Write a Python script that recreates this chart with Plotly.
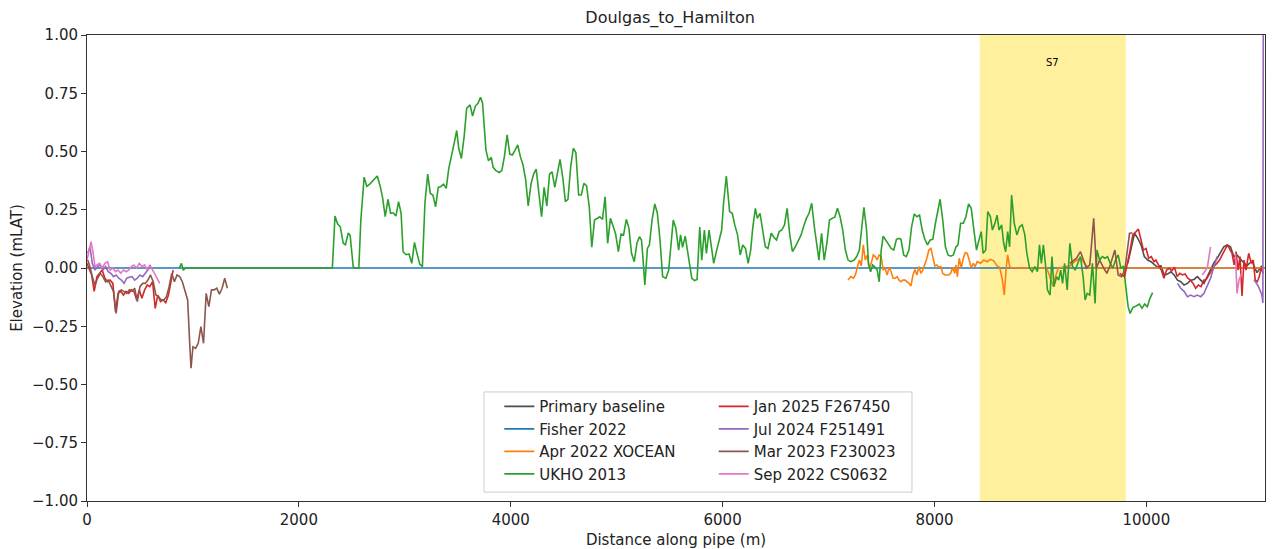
"""Doulgas_to_Hamilton pipeline elevation profile, all surveys on one axis."""

import plotly.graph_objects as go


# ------------------------------------------------------------------
# Survey data (distance along pipe in m, elevation in mLAT)
# ------------------------------------------------------------------

primary_x = [9825, 9856, 9888, 9919, 9950, 9981, 10013, 10044, 10075, 10106,
             10138, 10169, 10200, 10231, 10263, 10294, 10325, 10356, 10388,
             10419, 10450, 10481, 10513, 10544, 10575, 10606, 10638, 10669,
             10700, 10731, 10763, 10794, 10825, 10856, 10903, 10950, 10997,
             11044, 11091]
primary_y = [0.02, 0.091, 0.149, 0.127, 0.099, 0.049, 0.034, 0.027, 0.013,
             0.003, 0.009, -0.03, -0.026, -0.016, -0.03, -0.052, -0.059,
             -0.073, -0.066, -0.052, -0.049, -0.037, -0.052, -0.066, -0.037,
             -0.009, 0.023, 0.042, 0.07, 0.091, 0.099, 0.091, 0.049, 0.056,
             0.03, 0.01, 0.03, -0.02, 0.01]

fisher_x = [0, 11120]
fisher_y = [0.0, 0.0]

xocean_x = [7184, 7209, 7235, 7253, 7272, 7291, 7309, 7328, 7347, 7366, 7384,
            7403, 7422, 7441, 7459, 7478, 7497, 7516, 7534, 7553, 7572, 7591,
            7609, 7628, 7647, 7666, 7684, 7703, 7722, 7741, 7759, 7778, 7797,
            7816, 7834, 7853, 7872, 7891, 7909, 7928, 7947, 7966, 7984, 8003,
            8022, 8041, 8059, 8078, 8097, 8116, 8134, 8153, 8172, 8191, 8203,
            8216, 8234, 8253, 8272, 8291, 8309, 8328, 8347, 8366, 8384, 8403,
            8434, 8466, 8497, 8528, 8559, 8591, 8616, 8641, 8659, 8678, 8691,
            8709, 8730, 9060, 9100, 9122, 9140, 9170, 9280, 9330, 9380, 9420,
            9450, 11120]
xocean_y = [-0.052, -0.037, -0.044, -0.03, 0.003, 0.034, 0.009, 0.099, 0.034,
            0.056, 0.0, 0.02, 0.056, 0.049, 0.034, 0.056, 0.049, -0.009,
            -0.001, -0.03, 0.003, -0.016, -0.044, -0.044, -0.037, -0.052,
            -0.059, -0.052, -0.052, -0.059, -0.066, -0.077, -0.03, -0.006,
            -0.03, 0.006, -0.023, -0.009, 0.013, 0.042, 0.077, 0.084, 0.049,
            0.009, 0.013, 0.003, 0.006, -0.023, -0.03, -0.03, -0.03, -0.023,
            0.003, -0.023, 0.013, -0.037, 0.042, 0.0, 0.042, 0.066, 0.063,
            0.034, 0.0, 0.02, 0.006, 0.027, 0.02, 0.034, 0.027, 0.037, 0.031,
            0.009, 0.003, -0.052, -0.116, 0.006, 0.056, 0.006, 0.0, 0.0,
            -0.05, -0.08, -0.04, 0.0, 0.01, 0.03, 0.042, 0.02, 0.0, 0.0]

ukho_x = [872, 891, 909, 928, 2316, 2341, 2365, 2391, 2419, 2440, 2466, 2484,
          2513, 2528, 2566, 2585, 2616, 2641, 2669, 2691, 2716, 2740, 2768,
          2791, 2815, 2841, 2866, 2890, 2916, 2941, 2965, 2984, 3012, 3040,
          3066, 3091, 3115, 3141, 3166, 3190, 3216, 3241, 3265, 3291, 3316,
          3340, 3366, 3391, 3415, 3441, 3466, 3490, 3509, 3534, 3560, 3584,
          3616, 3640, 3666, 3691, 3715, 3734, 3747, 3766, 3790, 3816, 3834,
          3860, 3891, 3916, 3940, 3966, 3991, 4015, 4041, 4066, 4091, 4116,
          4141, 4165, 4191, 4216, 4240, 4266, 4291, 4315, 4341, 4366, 4390,
          4416, 4441, 4465, 4491, 4516, 4540, 4566, 4591, 4615, 4641, 4666,
          4690, 4716, 4741, 4765, 4791, 4816, 4840, 4866, 4891, 4915, 4941,
          4966, 4990, 5016, 5041, 5065, 5091, 5116, 5140, 5166, 5191, 5215,
          5234, 5247, 5266, 5290, 5309, 5334, 5360, 5384, 5409, 5434, 5466,
          5491, 5515, 5534, 5559, 5585, 5603, 5622, 5647, 5666, 5684, 5709,
          5735, 5759, 5784, 5803, 5828, 5847, 5872, 5897, 5916, 5941, 5965,
          5991, 6009, 6035, 6066, 6091, 6115, 6141, 6166, 6190, 6216, 6241,
          6265, 6284, 6309, 6328, 6353, 6378, 6403, 6428, 6459, 6484, 6509,
          6534, 6559, 6584, 6609, 6634, 6659, 6684, 6715, 6741, 6766, 6791,
          6816, 6841, 6866, 6891, 6909, 6934, 6959, 6984, 7009, 7034, 7059,
          7084, 7109, 7134, 7159, 7184, 7209, 7241, 7266, 7291, 7315, 7334,
          7359, 7378, 7397, 7416, 7441, 7459, 7478, 7497, 7516, 7541, 7566,
          7591, 7616, 7641, 7666, 7684, 7709, 7734, 7759, 7784, 7809, 7834,
          7859, 7884, 7909, 7934, 7959, 7984, 8009, 8034, 8053, 8078, 8103,
          8128, 8153, 8178, 8203, 8222, 8247, 8272, 8297, 8322, 8347, 8372,
          8397, 8416, 8441, 8459, 8484, 8503, 8528, 8547, 8566, 8591, 8609,
          8634, 8653, 8672, 8691, 8709, 8728, 8753, 8778, 8803, 8828, 8853,
          8872, 8897, 8922, 8947, 8972, 8991, 9009, 9028, 9047, 9066, 9091,
          9109, 9128, 9153, 9172, 9191, 9209, 9228, 9253, 9278, 9303, 9328,
          9353, 9378, 9403, 9422, 9441, 9466, 9491, 9516, 9534, 9559, 9584,
          9609, 9634, 9659, 9684, 9709, 9734, 9759, 9784, 9809, 9828, 9847,
          9872, 9903, 9934, 9959, 9984, 10009, 10034, 10059]
ukho_y = [0.0, 0.02, -0.01, 0.0, 0.0, 0.223, 0.19, 0.177, 0.106, 0.10, 0.15,
          0.14, 0.005, 0.0, 0.0, 0.206, 0.39, 0.35, 0.36, 0.37, 0.38, 0.395,
          0.35, 0.30, 0.22, 0.295, 0.235, 0.237, 0.223, 0.285, 0.235, 0.07,
          0.057, 0.06, 0.02, 0.11, 0.063, 0.017, 0.006, 0.278, 0.403, 0.32,
          0.313, 0.263, 0.346, 0.35, 0.36, 0.342, 0.428, 0.478, 0.535, 0.59,
          0.514, 0.47, 0.564, 0.685, 0.70, 0.652, 0.695, 0.707, 0.733, 0.707,
          0.607, 0.506, 0.46, 0.475, 0.432, 0.418, 0.41, 0.418, 0.478, 0.571,
          0.489, 0.485, 0.506, 0.528, 0.478, 0.442, 0.378, 0.266, 0.36, 0.403,
          0.424, 0.306, 0.22, 0.346, 0.266, 0.403, 0.413, 0.346, 0.413, 0.466,
          0.389, 0.285, 0.295, 0.435, 0.514, 0.495, 0.313, 0.313, 0.363,
          0.352, 0.263, 0.089, 0.206, 0.213, 0.22, 0.209, 0.306, 0.106, 0.213,
          0.18, 0.146, 0.07, 0.146, 0.142, 0.209, 0.17, 0.063, 0.027, 0.106,
          0.134, 0.12, 0.049, -0.073, 0.084, 0.099, 0.206, 0.275, 0.235, 0.12,
          -0.037, -0.044, -0.009, 0.12, 0.206, 0.17, 0.077, 0.142, 0.089,
          0.137, 0.08, 0.034, -0.044, -0.054, -0.049, 0.176, 0.034, 0.163,
          0.063, 0.163, 0.091, 0.02, 0.07, 0.12, 0.163, 0.278, 0.395, 0.242,
          0.235, 0.185, 0.142, 0.056, 0.099, 0.084, 0.02, 0.077, 0.17, 0.256,
          0.213, 0.235, 0.17, 0.091, 0.084, 0.149, 0.132, 0.12, 0.156, 0.163,
          0.185, 0.256, 0.142, 0.07, 0.089, 0.12, 0.142, 0.18, 0.213, 0.235,
          0.278, 0.177, 0.099, 0.034, 0.149, 0.034, 0.106, 0.206, 0.213,
          0.218, 0.256, 0.22, 0.163, 0.077, 0.034, 0.027, 0.034, 0.049, 0.077,
          0.177, 0.26, 0.163, 0.013, -0.016, 0.013, 0.003, -0.009, -0.059,
          0.077, 0.137, 0.12, 0.103, 0.084, 0.077, 0.123, 0.127, 0.123, 0.056,
          0.049, 0.077, 0.177, 0.232, 0.22, 0.227, 0.163, 0.123, 0.099, 0.12,
          0.123, 0.192, 0.249, 0.295, 0.206, 0.091, 0.056, 0.051, 0.056,
          0.091, 0.099, 0.192, 0.192, 0.22, 0.275, 0.256, 0.163, 0.077, 0.113,
          0.156, 0.063, 0.077, 0.242, 0.22, 0.163, 0.185, 0.227, 0.163, 0.185,
          0.106, 0.07, 0.156, 0.091, 0.313, 0.192, 0.142, 0.177, 0.185, 0.142,
          0.063, 0.0, -0.016, 0.006, -0.016, 0.099, 0.02, 0.099, 0.02, -0.094,
          -0.116, 0.049, -0.08, -0.037, -0.052, -0.009, -0.066, 0.02, -0.094,
          0.106, 0.006, -0.009, 0.02, 0.049, -0.037, -0.137, -0.109, -0.116,
          0.02, -0.152, 0.077, 0.034, 0.049, 0.042, 0.049, 0.02, 0.0, 0.034,
          0.056, 0.0, 0.006, -0.08, -0.166, -0.195, -0.17, -0.163, -0.155,
          -0.173, -0.155, -0.166, -0.13, -0.106]

jan25_x = [0, 19, 44, 68, 94, 119, 143, 169, 194, 218, 244, 269, 293, 319,
           344, 368, 394, 419, 443, 469, 494, 518, 544, 569, 593, 619, 644,
           668, 694, 719, 743, 769, 794, 813, None,
           9747, 9794, 9841, 9872, 9903, 9925, 9950, 9972, 9997, 10022, 10047,
           10072, 10090, 10116, 10141, 10166, 10191, 10216, 10241, 10266,
           10291, 10316, 10341, 10366, 10391, 10416, 10441, 10466, 10491,
           10516, 10541, 10566, 10591, 10616, 10641, 10666, 10691, 10716,
           10741, 10766, 10791, 10809, 10828, 10847, 10866, 10884, 10903,
           10922, 10941, 10966, 10991, 11009, 11028, 11047, 11066, 11084,
           11103]
jan25_y = [0.02, 0.0, -0.03, -0.1, -0.037, -0.023, -0.009, -0.044, -0.059,
           -0.052, -0.066, -0.187, -0.109, -0.10, -0.116, -0.10, -0.109,
           -0.094, -0.10, -0.137, -0.094, -0.13, -0.094, -0.073, -0.08,
           -0.059, -0.173, -0.116, -0.144, -0.137, -0.149, -0.116, -0.059,
           -0.009, None,
           -0.023, -0.037, 0.063, 0.142, 0.156, 0.167, 0.12, 0.077, 0.084,
           0.042, 0.049, 0.027, 0.034, 0.013, -0.009, -0.044, -0.009, -0.001,
           -0.012, 0.003, -0.037, -0.023, -0.03, -0.026, -0.044, -0.052,
           -0.066, -0.087, -0.073, -0.08, -0.052, -0.049, -0.03, -0.009,
           0.009, 0.02, 0.034, 0.056, 0.077, 0.099, 0.077, 0.063, 0.013,
           0.07, -0.009, 0.049, -0.12, 0.034, -0.009, 0.063, 0.02, 0.034,
           -0.052, -0.059, -0.037, 0.0, -0.023]

jul24_x = [7, 28, 50, 75, 100, 125, 150, 175, 200, 225, 250, 275, 300, 325,
           350, 375, 400, 425, 450, 475, 500, 525, 550, 575, 600, None,
           10294, 10325, 10356, 10388, 10419, 10450, 10481, 10513, 10544,
           10575, 10606, 10638, 10669, None,
           11016, 11059, 11091, 11100, 11110]
jul24_y = [0.063, 0.091, 0.02, -0.009, 0.006, 0.013, -0.009, 0.006, -0.016,
           -0.023, -0.037, -0.03, -0.044, -0.052, -0.066, -0.044, -0.04,
           -0.037, -0.052, -0.044, -0.03, -0.037, -0.023, -0.009, 0.006, None,
           -0.066, -0.087, -0.10, -0.123, -0.116, -0.123, -0.116, -0.123,
           -0.109, -0.08, -0.044, 0.006, 0.049, None,
           -0.05, -0.08, -0.116, -0.15, 3.0]

mar23_x = [7, 28, 50, 75, 100, 125, 150, 175, 200, 225, 250, 275, 300, 325,
           350, 375, 400, 425, 450, 475, 500, 525, 550, 575, 600, 625, 650,
           675, 700, 725, 750, 775, 800, 825, 850, 875, 900, 925, 950, 968,
           982, 1000, 1025, 1050, 1075, 1100, 1125, 1150, 1175, 1200, 1225,
           1250, 1275, 1300, 1325, None,
           9278, 9341, 9378, 9410, 9434, 9466, 9503, 9528, 9559, 9597, 9628,
           9659, 9703, 9734, 9766, 9797, 9841, 9870]
mar23_y = [0.034, 0.006, -0.037, -0.073, -0.044, -0.023, -0.037, -0.059,
           -0.052, -0.08, -0.10, -0.195, -0.10, -0.094, -0.10, -0.109,
           -0.094, -0.10, -0.087, -0.144, -0.08, -0.066, -0.066, -0.052,
           -0.03, -0.059, -0.116, -0.123, -0.137, -0.137, -0.123, -0.08,
           -0.023, -0.059, -0.03, -0.037, -0.059, -0.094, -0.137, -0.309,
           -0.43, -0.338, -0.345, -0.323, -0.252, -0.323, -0.109, -0.166,
           -0.094, -0.094, -0.087, -0.112, -0.087, -0.044, -0.087, None,
           0.02, 0.042, 0.07, 0.027, 0.0, 0.013, 0.213, 0.0, 0.034, 0.0,
           -0.023, 0.013, 0.077, -0.03, -0.037, -0.009, 0.149, 0.15]

sep22_x = [0, 19, 38, 56, 75, 94, 119, 143, 169, 194, 218, 244, 269, 293, 319,
           344, 368, 394, 419, 443, 469, 494, 518, 544, 569, 593, 619, 644,
           668, 687, None,
           10528, 10575, 10606, None,
           10841, 10856, 10875, 10903]
sep22_y = [0.034, 0.077, 0.113, 0.07, 0.006, 0.013, 0.02, 0.0, 0.02, 0.027,
           -0.009, 0.0, -0.016, -0.009, -0.023, -0.009, -0.016, -0.009, 0.006,
           0.013, 0.0, 0.02, 0.006, 0.013, -0.009, 0.013, -0.009, -0.03,
           -0.044, -0.066, None,
           -0.03, 0.0, 0.091, None,
           0.063, -0.109, -0.05, -0.02]

# name, x, y, colour, legend column, legend row
SURVEYS = [
    ('Primary baseline', primary_x, primary_y, '#4d4d4d', 'legend', 1),
    ('Fisher 2022', fisher_x, fisher_y, '#1f77b4', 'legend', 2),
    ('Apr 2022 XOCEAN', xocean_x, xocean_y, '#ff7f0e', 'legend', 3),
    ('UKHO 2013', ukho_x, ukho_y, '#2ca02c', 'legend', 4),
    ('Jan 2025 F267450', jan25_x, jan25_y, '#d62728', 'legend2', 1),
    ('Jul 2024 F251491', jul24_x, jul24_y, '#9467bd', 'legend2', 2),
    ('Mar 2023 F230023', mar23_x, mar23_y, '#8c564b', 'legend2', 3),
    ('Sep 2022 CS0632', sep22_x, sep22_y, '#e377c2', 'legend2', 4),
]

section_name = 'S7'
section_start = 8428
section_end = 9806

x_max = 11120
FONT = 'DejaVu Sans'

# page body has an 8px margin; keep the figure inside the visible window
FIG_W, FIG_H = 1258, 541


def build_figure() -> go.Figure:
    fig = go.Figure()

    # Section highlight
    fig.add_vrect(x0=section_start, x1=section_end, fillcolor='rgba(255,215,0,0.38)',
                  line_width=0, layer='below')
    fig.add_annotation(x=(section_start + section_end) / 2, y=0.88,
                       text=section_name, showarrow=False,
                       font=dict(size=10, color='black'))

    for name, xs, ys, color, leg, row in SURVEYS:
        fig.add_trace(go.Scatter(
            x=xs, y=ys, mode='lines', name=name,
            line=dict(color=color, width=1.6),
            legend=leg, legendgroup=name, legendrank=row,
            connectgaps=False,
        ))

    # matplotlib-style legend frame around both columns
    fig.add_shape(type='rect', xref='paper', yref='paper',
                  x0=0.337, x1=0.7003, y0=0.019, y1=0.234,
                  line=dict(color='#cccccc', width=1),
                  fillcolor='rgba(255,255,255,0.8)', layer='above')

    leg_common = dict(yanchor='top', xanchor='left', y=0.238,
                      bgcolor='rgba(0,0,0,0)', borderwidth=0,
                      font=dict(family=FONT, size=15, color='#222'),
                      tracegroupgap=0, itemwidth=30)

    fig.update_layout(
        width=FIG_W, height=FIG_H,
        margin=dict(l=79, r=1, t=27, b=48, autoexpand=False),
        paper_bgcolor='white', plot_bgcolor='white',
        font=dict(family=FONT, size=15, color='#222'),
        title=dict(text='Doulgas_to_Hamilton', x=0.495, xref='paper',
                   y=1 - 9 / FIG_H, yanchor='middle',
                   font=dict(family=FONT, size=16, color='#222')),
        legend=dict(x=0.350, **leg_common),
        legend2=dict(x=0.532, **leg_common),
    )
    axis_common = dict(showline=True, mirror=True, linecolor='#333', linewidth=1,
                       ticks='outside', ticklen=5, tickcolor='#333',
                       showgrid=False, zeroline=False,
                       tickfont=dict(family=FONT, size=15, color='#222'))
    fig.update_xaxes(range=[0, x_max], tickvals=[0, 2000, 4000, 6000, 8000, 10000],
                     tickformat='d',
                     title=dict(text='Distance along pipe (m)', standoff=9,
                                font=dict(family=FONT, size=15)),
                     **axis_common)
    fig.update_yaxes(range=[-1, 1], dtick=0.25, tickformat='.2f',
                     title=dict(text='Elevation (mLAT)', standoff=8,
                                font=dict(family=FONT, size=15)),
                     **axis_common)
    return fig


if __name__ == '__main__':
    fig = build_figure()
    fig.write_html('out.html')
